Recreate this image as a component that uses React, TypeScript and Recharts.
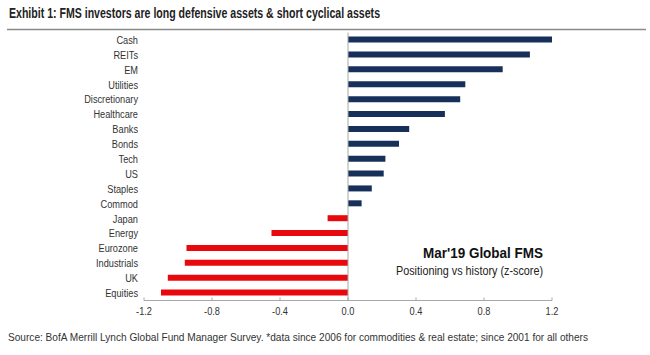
import React from 'react';
import { BarChart, Bar, XAxis, YAxis, Cell, ReferenceLine } from 'recharts';

const categories = ['Cash', 'REITs', 'EM', 'Utilities', 'Discretionary', 'Healthcare', 'Banks', 'Bonds', 'Tech', 'US', 'Staples', 'Commod', 'Japan', 'Energy', 'Eurozone', 'Industrials', 'UK', 'Equities'];
const zScores = [1.2, 1.07, 0.91, 0.69, 0.66, 0.57, 0.36, 0.3, 0.22, 0.21, 0.14, 0.08, -0.12, -0.45, -0.95, -0.96, -1.06, -1.1];
const xTicks = [-1.2, -0.8, -0.4, 0, 0.4, 0.8, 1.2];

const titleText = 'Exhibit 1: FMS investors are long defensive assets & short cyclical assets';
const annoTitle = "Mar'19 Global FMS";
const annoSub = 'Positioning vs history (z-score)';
const sourceText = 'Source: BofA Merrill Lynch Global Fund Manager Survey. *data since 2006 for commodities & real estate; since 2001 for all others';

const data = categories.map((c, i) => ({ name: c, value: zScores[i] }));

const FONT = "'Liberation Sans', Arial, sans-serif";
const NAVY = '#17305a';
const RED = '#e8090c';
const GREY = '#a8a8a8';
const SX = 0.84;

const YTick = (props: any) => {
  const { x, y, payload } = props;
  return (
    <text
      transform={`translate(${x},${y}) scale(${SX},1)`}
      textAnchor="end"
      dy="0.355em"
      fontSize={11}
      fontFamily={FONT}
      fill="#333"
    >
      {payload.value}
    </text>
  );
};

const XTick = (props: any) => {
  const { x, y, payload } = props;
  return (
    <text
      transform={`translate(${x},${y}) scale(${SX},1)`}
      textAnchor="middle"
      dy="0.71em"
      fontSize={11}
      fontFamily={FONT}
      fill="#333"
    >
      {Number(payload.value).toFixed(1)}
    </text>
  );
};

export default function App() {
  return (
    <div style={{ position: 'absolute', left: 0, top: 0, width: 650, height: 355, background: '#fff', fontFamily: FONT }}>
      <div style={{ position: 'absolute', left: 0, top: 0 }}>
        <BarChart
          width={650}
          height={355}
          data={data}
          layout="vertical"
          margin={{ top: 32.6, right: 98, bottom: 24.5, left: 0 }}
          barSize={6}
        >
          <XAxis
            type="number"
            domain={[-1.2, 1.2]}
            ticks={xTicks}
            axisLine={{ stroke: GREY, strokeWidth: 1 }}
            tickLine={{ stroke: GREY, strokeWidth: 1 }}
            tickSize={-3}
            tickMargin={10}
            height={30}
            interval={0}
            tick={<XTick />}
          />
          <YAxis
            type="category"
            dataKey="name"
            width={144}
            axisLine={false}
            tickLine={false}
            tickSize={0}
            tickMargin={6}
            interval={0}
            tick={<YTick />}
          />
          <ReferenceLine x={0} stroke={GREY} strokeWidth={1} />
          <Bar dataKey="value" isAnimationActive={false}>
            {data.map((d, i) => (
              <Cell key={i} fill={d.value >= 0 ? NAVY : RED} />
            ))}
          </Bar>
        </BarChart>
      </div>
      <svg width={650} height={355} style={{ position: 'absolute', left: 0, top: 0, pointerEvents: 'none' }}>
        <text x={9} y={18} fontFamily={FONT} fontWeight="bold" fontSize={14} fill="#222" textLength={371} lengthAdjust="spacingAndGlyphs">{titleText}</text>
        <line x1={7} x2={646} y1={29.5} y2={29.5} stroke="#8a8a8a" strokeWidth={1.5} />
        <text x={423} y={258} fontFamily={FONT} fontWeight="bold" fontSize={15} fill="#111" textLength={120} lengthAdjust="spacingAndGlyphs">{annoTitle}</text>
        <text x={396} y={275} fontFamily={FONT} fontSize={12} fill="#222" textLength={147} lengthAdjust="spacingAndGlyphs">{annoSub}</text>
        <text x={8} y={341} fontFamily={FONT} fontSize={11} fill="#333" textLength={580} lengthAdjust="spacingAndGlyphs">{sourceText}</text>
      </svg>
    </div>
  );
}
